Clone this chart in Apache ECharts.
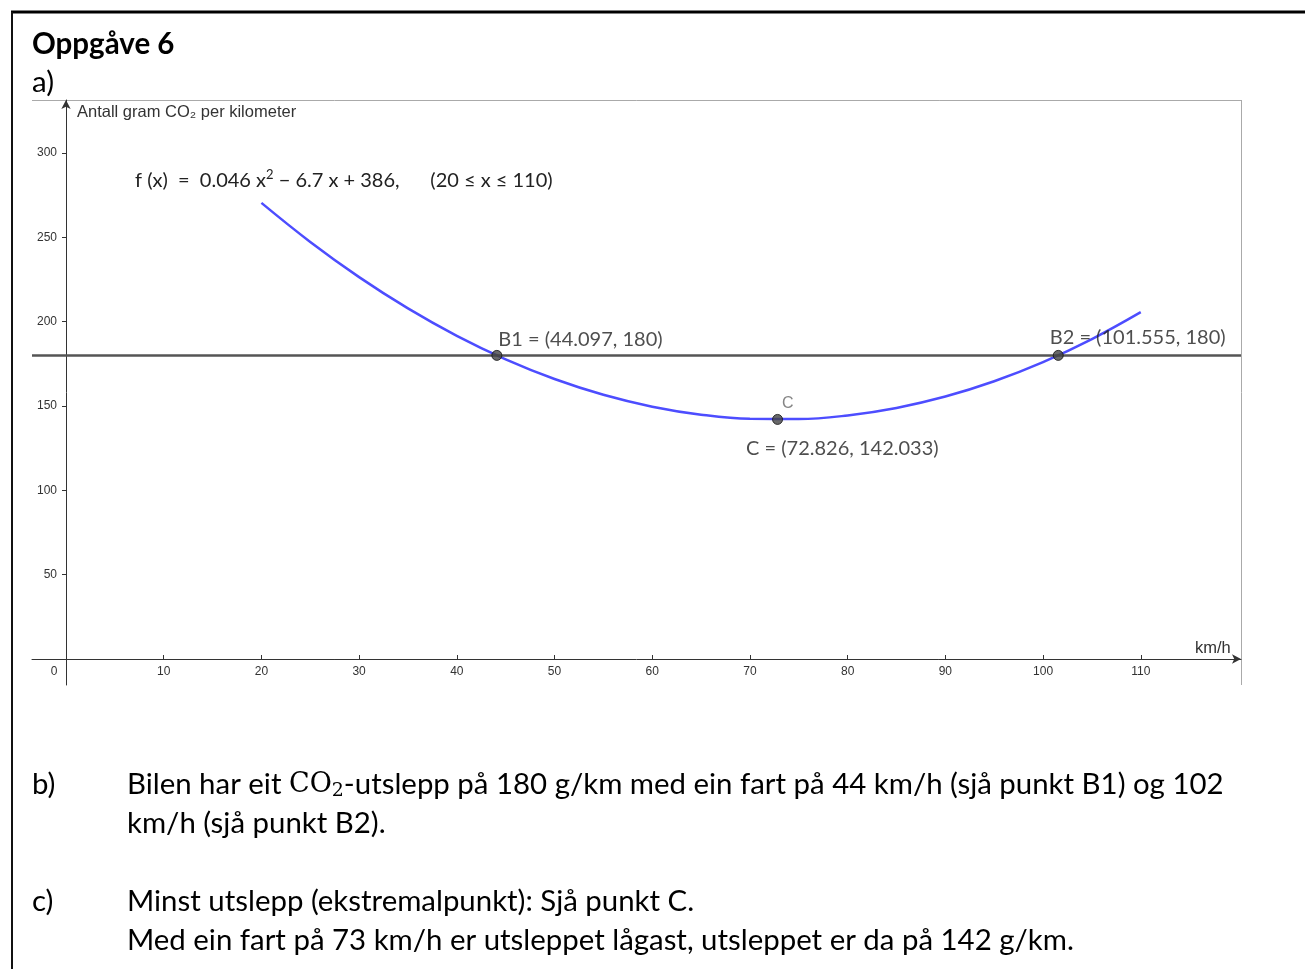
<!DOCTYPE html>
<html>
<head>
<meta charset="utf-8">
<script src="https://cdn.jsdelivr.net/npm/echarts@6/dist/echarts.min.js"></script>
<style>
html,body{margin:0;padding:0;background:#fff;}
#chart{width:1305px;height:969px;}
</style>
</head>
<body>
<div id="chart"></div>
<script>
// Speed (km/h) and CO2 emission (g/km)
const speeds = [20,25,30,35,40,45,50,55,60,65,70,75,80,85,90,95,100,105,110];
const co2 = [270.4,247.25,226.4,207.85,191.6,177.65,166,156.65,149.6,144.85,142.4,142.25,144.4,148.85,155.6,164.65,176,189.65,205.6];
// Marked points
const pointNames = ['B1','B2','C'];
const pointX = [44.097,101.555,72.826];
const pointY = [180,180,142.033];
const limitLevel = 180;
// Ticks
const xTicks = [10,20,30,40,50,60,70,80,90,100,110];
const yTicks = [50,100,150,200,250,300];

const chart = echarts.init(document.getElementById('chart'), null, {renderer:'canvas'});

const mathFont = 'Lato';
const docFont = 'Lato';
const axisFont = 'Liberation Sans';

const pointLabels = {
  B1: {text: 'B1 = (44.097, 180)', position: [7, -10]},
  B2: {text: 'B2 = (101.555, 180)', position: [-3, -12]},
  C:  {text: 'C', position: [10, -10]}
};

const option = {
  animation: false,
  backgroundColor: '#fff',
  grid: {left: 32, right: 64, top: 100, bottom: 284},
  xAxis: {
    type: 'value', min: -3.48, max: 120.26, position: 'bottom', offset: -26,
    axisLine: {onZero: false, symbol: ['none','arrow'], symbolSize: [7,9], lineStyle: {color: '#333', width: 1}},
    axisTick: {show: true, inside: true, length: 4, customValues: xTicks, lineStyle: {color: '#333'}},
    axisLabel: {
      customValues: [0].concat(xTicks), color: '#333', fontSize: 12, fontFamily: axisFont, margin: 7,
      formatter: v => v === 0 ? '{z|0}' : String(v),
      rich: {z: {padding: [0,24,0,0], color: '#333', fontSize: 12, fontFamily: axisFont}}
    },
    splitLine: {show: false}
  },
  yAxis: {
    type: 'value', min: -15.4, max: 331.4, position: 'left', offset: -34,
    axisLine: {onZero: false, symbol: ['none','arrow'], symbolSize: [7,9], lineStyle: {color: '#333', width: 1}},
    axisTick: {show: true, length: 4, customValues: yTicks, lineStyle: {color: '#333'}},
    axisLabel: {customValues: yTicks, color: '#333', fontSize: 12, fontFamily: axisFont, margin: 9},
    splitLine: {show: false}
  },
  series: [
    {
      type: 'line',
      data: speeds.map((s,i) => [s, co2[i]]),
      smooth: 0.4,
      symbol: 'none',
      lineStyle: {color: '#4d4dff', width: 2.5},
      z: 3,
      markLine: {
        silent: true, symbol: 'none',
        label: {show: false},
        lineStyle: {color: '#555', width: 2.5, type: 'solid'},
        data: [{yAxis: limitLevel}]
      }
    },
    {
      type: 'scatter',
      z: 5,
      symbolSize: 10,
      itemStyle: {color: '#444', borderColor: '#111', borderWidth: 1},
      data: pointNames.map((n,i) => ({
        name: n, value: [pointX[i], pointY[i]],
        label: {
          show: true, formatter: pointLabels[n].text, position: pointLabels[n].position,
          align: 'left', verticalAlign: 'middle',
          color: n === 'C' ? '#666' : '#222',
          fontSize: n === 'C' ? 16 : 20, fontFamily: n === 'C' ? axisFont : mathFont
        }
      }))
    },
    {
      type: 'scatter',
      z: 4,
      symbolSize: 1,
      itemStyle: {color: 'transparent'},
      data: [{
        value: [pointX[2], pointY[2]],
        label: {show: true, formatter: 'C = (72.826, 142.033)', position: [-31, 30],
          align: 'left', verticalAlign: 'middle', color: '#222', fontSize: 20, fontFamily: mathFont}
      }]
    }
  ],
  graphic: [
    // page borders
    {type: 'line', shape: {x1: 11, y1: 12, x2: 1305, y2: 12}, style: {stroke: '#000', lineWidth: 3}},
    {type: 'line', shape: {x1: 12, y1: 12, x2: 12, y2: 969}, style: {stroke: '#111', lineWidth: 2}},
    // chart frame (top and right)
    {type: 'line', shape: {x1: 32, y1: 100.5, x2: 1241.5, y2: 100.5}, style: {stroke: '#aaa', lineWidth: 1}},
    {type: 'line', shape: {x1: 1241.5, y1: 100, x2: 1241.5, y2: 685}, style: {stroke: '#aaa', lineWidth: 1}},
    // headings
    {type: 'text', left: 32, top: 29, style: {text: 'Oppgåve 6', font: 'bold 29.5px ' + docFont, fill: '#000'}},
    {type: 'text', left: 32, top: 67, style: {text: 'a)', font: '29.5px ' + docFont, fill: '#000'}},
    // axis names
    {type: 'text', left: 77, top: 104, style: {text: 'Antall gram CO₂ per kilometer', font: '16.5px ' + axisFont, fill: '#333'}},
    {type: 'text', left: 1195, top: 640, style: {text: 'km/h', font: '16.5px ' + axisFont, fill: '#333'}},
    // function label
    {type: 'text', left: 135, top: 168, style: {
      text: 'f (x)  =  0.046 x{sup|2} − 6.7 x + 386,      (20 ≤ x ≤ 110)',
      font: '20px ' + mathFont, fill: '#222',
      rich: {sup: {fontSize: 13, fontFamily: mathFont, padding: [0,0,13,0], fill: '#222'}}
    }},
    // answers
    {type: 'text', left: 32, top: 770, style: {text: 'b)', font: '29.4px ' + docFont, fill: '#000'}},
    {type: 'text', left: 127, top: 770, style: {
      text: 'Bilen har eit {m|CO}{sub|2}-utslepp på 180 g/km med ein fart på 44 km/h (sjå punkt B1) og 102',
      font: '29.4px ' + docFont, fill: '#000',
      rich: {m: {fontFamily: 'DejaVu Serif', fontSize: 27, fill: '#000'}, sub: {fontFamily: 'DejaVu Serif', fontSize: 19, padding: [14,0,0,0], fill: '#000'}}
    }},
    {type: 'text', left: 127, top: 809, style: {text: 'km/h (sjå punkt B2).', font: '29.4px ' + docFont, fill: '#000'}},
    {type: 'text', left: 32, top: 887, style: {text: 'c)', font: '29.4px ' + docFont, fill: '#000'}},
    {type: 'text', left: 127, top: 887, style: {text: 'Minst utslepp (ekstremalpunkt): Sjå punkt C.', font: '29.4px ' + docFont, fill: '#000'}},
    {type: 'text', left: 127, top: 926, style: {text: 'Med ein fart på 73 km/h er utsleppet lågast, utsleppet er da på 142 g/km.', font: '29.4px ' + docFont, fill: '#000'}}
  ]
};
chart.setOption(option);
</script>
</body>
</html>
